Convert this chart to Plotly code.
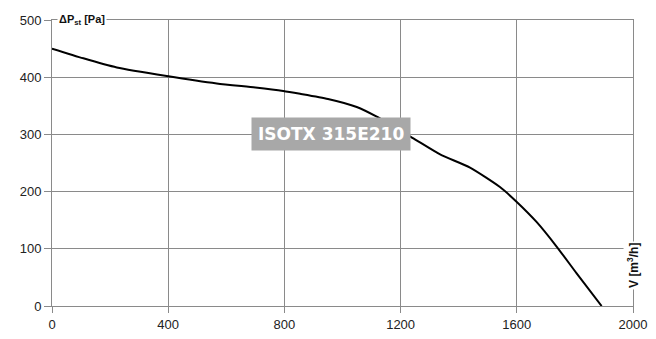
import plotly.graph_objects as go

# fan curve
flow = [0, 108, 223, 395, 567, 700, 796, 854, 950, 1049, 1118, 1244, 1336, 1439, 1542, 1600, 1668, 1737, 1806, 1892]
pressure = [450, 433, 417, 402, 389, 382, 376, 371, 362, 348, 331, 293, 265, 242, 208, 182, 147, 104, 57, 0]

x_ticks = [0, 400, 800, 1200, 1600, 2000]
y_ticks = [0, 100, 200, 300, 400, 500]

grid = "#8a8a8a"
tick_font = dict(family="Liberation Sans, Arial", size=13, color="#222222")

fig = go.Figure()
fig.add_trace(go.Scatter(
    x=flow, y=pressure, mode="lines",
    line=dict(color="black", width=2, shape="spline", smoothing=0.6),
    hoverinfo="skip", showlegend=False,
))

fig.update_xaxes(
    range=[0, 2000], tickvals=x_ticks, ticks="outside", ticklen=6, tickcolor=grid,
    showgrid=True, gridcolor=grid, gridwidth=1, zeroline=False,
    showline=True, linecolor=grid, linewidth=1, mirror=True,
    tickfont=tick_font, automargin=False,
)
fig.update_yaxes(
    range=[0, 500], tickvals=y_ticks, ticks="outside", ticklen=7, tickcolor=grid,
    showgrid=True, gridcolor=grid, gridwidth=1, zeroline=False,
    showline=True, linecolor=grid, linewidth=1, mirror=True,
    tickfont=tick_font, automargin=False,
)

fig.add_annotation(
    x=0, y=500, xref="x", yref="y", xanchor="left", yanchor="middle", xshift=5,
    text="<b>ΔP<sub>st</sub> [Pa]</b>", showarrow=False, bgcolor="white",
    font=dict(family="Liberation Sans, Arial", size=11, color="#111111"),
)
fig.add_annotation(
    x=2000, y=70, xref="x", yref="y", xanchor="center", yanchor="middle", textangle=-90,
    text="<b>V [m<sup>3</sup>/h]</b>", showarrow=False, bgcolor="white",
    font=dict(family="Liberation Sans, Arial", size=12, color="#111111"),
)
fig.add_annotation(
    x=960, y=301, xref="x", yref="y", xanchor="center", yanchor="middle",
    text="<b>ISOTX 315E210</b>", showarrow=False, bgcolor="#a8a8a8",
    borderpad=6,
    font=dict(family="DejaVu Sans", size=17, color="white"),
)

# the page body has an 8px margin, so the figure is a little smaller
fig.update_layout(
    width=648, height=331,
    margin=dict(l=44, r=23, t=12, b=33),
    paper_bgcolor="white", plot_bgcolor="white",
)

fig.write_html("out.html")
